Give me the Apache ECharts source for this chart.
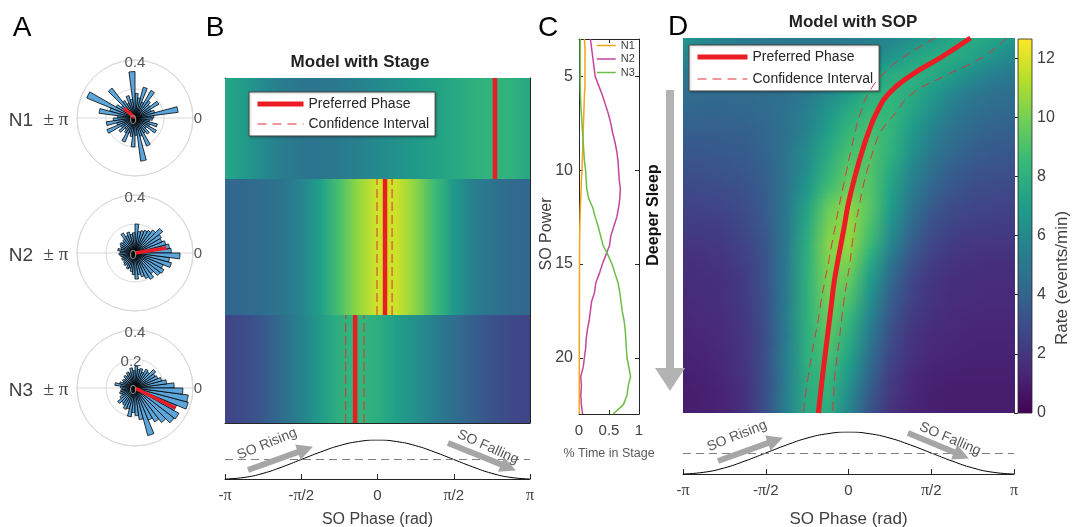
<!DOCTYPE html>
<html><head><meta charset="utf-8"><title>SO phase model</title>
<script src="https://cdn.jsdelivr.net/npm/echarts@6.0.0/dist/echarts.min.js"></script>
<style>html,body{margin:0;padding:0;background:#fff;}#chart{width:1074px;height:527px;}</style>
</head><body><div id="chart"></div>
<script>
const PI = Math.PI;
const FONT = 'Liberation Sans, Arial, Helvetica, sans-serif';
const SERIF = 'Liberation Serif, Times New Roman, serif';

// ===== Panel A: polar histograms (48 bins of 7.5 deg, fraction) =====
const stageNames = ['N1', 'N2', 'N3'];
const binCenters = Array.from({length: 48}, (_, k) => 3.75 + 7.5 * k);
const histN1 = [0.13,0.30,0.14,0.12,0.19,0.13,0.15,0.22,0.12,0.22,0.14,0.17,0.32,0.13,0.16,0.11,0.14,0.26,0.12,0.15,0.36,0.18,0.25,0.12,0.15,0.20,0.13,0.21,0.11,0.14,0.10,0.12,0.18,0.11,0.13,0.20,0.12,0.30,0.13,0.21,0.12,0.14,0.10,0.17,0.11,0.16,0.10,0.12];
const histN2 = [0.25,0.24,0.22,0.20,0.21,0.24,0.20,0.18,0.17,0.16,0.15,0.20,0.14,0.13,0.15,0.13,0.16,0.12,0.11,0.12,0.11,0.10,0.12,0.10,0.11,0.10,0.09,0.10,0.09,0.10,0.11,0.10,0.12,0.11,0.13,0.15,0.18,0.15,0.17,0.19,0.21,0.18,0.22,0.23,0.21,0.26,0.24,0.31];
const histN3 = [0.27,0.22,0.19,0.17,0.16,0.18,0.14,0.15,0.12,0.14,0.13,0.15,0.12,0.14,0.11,0.12,0.10,0.11,0.09,0.10,0.09,0.11,0.14,0.10,0.09,0.10,0.11,0.10,0.12,0.15,0.13,0.14,0.16,0.15,0.20,0.17,0.19,0.22,0.34,0.24,0.27,0.30,0.34,0.35,0.31,0.38,0.37,0.33];
const stagePrefLength = [0.10, 0.22, 0.31];

// ===== Panel B: model with stage =====
const heatPhases = [-8,-7,-6,-5,-4,-3,-2,-1,0,1,2,3,4,5,6,7,8].map(k => k * PI / 8);
const stageRateN1 = [7.5,6.9,6.0,5.3,5.0,5.0,5.2,5.5,6.0,6.4,6.8,7.2,7.6,8.0,8.3,8.1,7.5];
const stageRateN2 = [4.2,4.25,4.5,4.9,5.7,7.1,8.9,10.6,11.8,11.7,10.4,8.6,6.8,5.5,4.8,4.4,4.2];
const stageRateN3 = [2.6,2.9,3.5,4.5,5.6,6.9,8.0,8.4,7.9,7.1,6.3,5.4,4.6,3.8,3.2,2.8,2.6];
const stagePrefPhase = [2.42, 0.155, -0.46];
const stageCILow = [null, -0.01, -0.655];
const stageCIHigh = [null, 0.30, -0.277];

// ===== SO waveform =====
const cosValues = [-1,-0.92,-0.71,-0.38,0,0.38,0.71,0.92,1,0.92,0.71,0.38,0,-0.38,-0.71,-0.92,-1];
const phaseTicks = [-PI, -PI/2, 0, PI/2, PI];
const phaseTickLabels = ['-π', '-π/2', '0', 'π/2', 'π'];
const arrowsB = [[[-2.668,-0.538],[-1.485,0.518]], [[1.452,0.846],[2.699,-0.405]]];
const arrowsD = [[[-2.477,-0.381],[-1.388,0.600]], [[1.129,0.952],[2.145,-0.110]]];

// ===== Panel C: % time in stage vs SO power =====
const cPower = Array.from({length: 41}, (_, i) => 3 + 0.5 * i);
const timeN1 = [0.09,0.10,0.10,0.10,0.10,0.10,0.09,0.085,0.08,0.075,0.07,0.065,0.06,0.055,0.05,0.04,0.035,0.03,0.022,0.018,0.014,0.011,0.01,0.009,0.008,0.008,0.007,0.007,0.006,0.006,0.006,0.005,0.005,0.005,0.005,0.005,0.005,0.005,0.005,0.005,0.005];
const timeN2 = [0.19,0.21,0.23,0.25,0.27,0.33,0.39,0.44,0.49,0.53,0.56,0.60,0.63,0.65,0.66,0.67,0.69,0.68,0.66,0.63,0.58,0.53,0.51,0.45,0.39,0.34,0.28,0.26,0.21,0.19,0.17,0.14,0.12,0.11,0.09,0.07,0.03,0.04,0.03,0.04,0.06];
const timeN3 = [0.02,0.02,0.02,0.02,0.02,0.02,0.025,0.03,0.04,0.05,0.06,0.07,0.08,0.09,0.11,0.12,0.13,0.16,0.23,0.27,0.32,0.36,0.40,0.48,0.55,0.60,0.65,0.68,0.70,0.72,0.75,0.77,0.78,0.79,0.80,0.83,0.86,0.82,0.80,0.74,0.57];
const powerTicks = [5, 10, 15, 20];
const timeTicks = [0, 0.5, 1];

// ===== Panel D: model with SO power =====
const sopPower = [3,4,5,6,7,8,9,10,11,12,13,14,15,16,17,18,19,20,21,22,23];
const sopPrefPhase = [2.30,1.76,1.17,0.74,0.52,0.372,0.254,0.15,0.057,-0.025,-0.086,-0.152,-0.219,-0.28,-0.324,-0.368,-0.412,-0.456,-0.50,-0.54,-0.58];
const sopCILow = [1.64,1.04,0.62,0.36,0.215,0.117,0.036,-0.04,-0.115,-0.19,-0.257,-0.325,-0.39,-0.46,-0.527,-0.58,-0.648,-0.71,-0.77,-0.82,-0.865];
const sopCIHigh = [2.98,2.54,1.83,1.18,0.88,0.60,0.46,0.35,0.26,0.19,0.12,0.06,0.018,-0.04,-0.095,-0.14,-0.18,-0.226,-0.27,-0.29,-0.31];
const sopRate = [
 [6.7,6.1,5.6,5.3,5.2,5.1,5.1,5.1,5.2,5.4,5.7,6.2,6.9,7.5,7.7,7.4,6.7],
 [5.8,5.4,5.1,5.0,4.9,4.9,5.0,5.1,5.4,5.8,6.5,7.3,7.8,7.8,7.3,6.5,5.8],
 [5.0,4.8,4.7,4.7,4.7,4.8,5.0,5.4,6.1,6.9,7.8,8.1,7.7,6.9,6.0,5.4,5.0],
 [4.5,4.4,4.4,4.4,4.5,4.7,5.2,6.0,7.0,8.0,8.3,7.8,6.8,5.8,5.1,4.7,4.5],
 [4.2,4.1,4.1,4.2,4.4,4.8,5.5,6.6,7.8,8.5,8.4,7.4,6.2,5.2,4.6,4.3,4.2],
 [3.8,3.8,3.8,3.9,4.2,4.7,5.7,7.1,8.4,8.9,8.3,6.9,5.6,4.7,4.2,3.9,3.8],
 [3.5,3.5,3.6,3.7,4.1,4.9,6.1,7.6,8.9,9.1,8.1,6.5,5.1,4.3,3.8,3.6,3.5],
 [3.2,3.2,3.3,3.5,3.9,4.9,6.3,8.1,9.4,9.2,7.7,5.9,4.6,3.8,3.4,3.2,3.2],
 [2.8,2.9,3.0,3.2,3.8,4.9,6.7,8.7,9.8,9.2,7.3,5.4,4.1,3.4,3.0,2.9,2.8],
 [2.5,2.6,2.7,3.0,3.7,5.1,7.3,9.6,10.5,9.3,7.0,4.9,3.6,2.9,2.7,2.6,2.5],
 [2.3,2.3,2.4,2.8,3.6,5.2,7.6,10.0,10.7,9.0,6.4,4.3,3.1,2.6,2.4,2.3,2.3],
 [2.0,2.0,2.2,2.6,3.4,5.2,7.9,10.3,10.6,8.6,5.8,3.8,2.7,2.2,2.0,2.0,2.0],
 [1.7,1.8,2.0,2.4,3.3,5.3,8.0,10.2,10.1,7.7,5.0,3.2,2.3,1.9,1.8,1.7,1.7],
 [1.6,1.7,1.8,2.2,3.3,5.3,8.1,10.1,9.5,6.9,4.3,2.7,2.0,1.7,1.6,1.6,1.6],
 [1.5,1.6,1.8,2.2,3.2,5.3,8.1,9.9,9.0,6.3,3.8,2.5,1.9,1.6,1.6,1.5,1.5],
 [1.4,1.5,1.6,2.1,3.2,5.4,8.1,9.6,8.4,5.7,3.4,2.2,1.7,1.5,1.4,1.4,1.4],
 [1.3,1.4,1.6,2.0,3.1,5.3,8.0,9.3,7.8,5.1,3.0,1.9,1.5,1.4,1.3,1.3,1.3],
 [1.2,1.3,1.5,2.0,3.2,5.5,8.0,8.9,7.3,4.6,2.7,1.8,1.4,1.3,1.2,1.2,1.2],
 [1.1,1.2,1.4,1.9,3.1,5.4,7.9,8.5,6.7,4.1,2.3,1.5,1.2,1.1,1.1,1.1,1.1],
 [1.0,1.1,1.3,1.8,3.1,5.5,7.8,8.2,6.1,3.6,2.1,1.4,1.1,1.0,1.0,1.0,1.0],
 [1.0,1.1,1.3,1.8,3.2,5.5,7.8,7.8,5.7,3.3,1.9,1.3,1.1,1.0,1.0,1.0,1.0]
];
const rateTicks = [0, 2, 4, 6, 8, 10, 12];
const rateMax = 12.65;

// ===== styling helpers =====
const VIR = ['#440154','#482878','#3e4989','#31688e','#26828e','#1f9e89','#35b779','#6ece58','#b5de2b','#fde725'];
function hexRgb(h){ return [parseInt(h.substr(1,2),16), parseInt(h.substr(3,2),16), parseInt(h.substr(5,2),16)]; }
const VIRRGB = VIR.map(hexRgb);
function viridis(t){
  t = Math.max(0, Math.min(1, t));
  const x = t * 9, i = Math.min(8, Math.floor(x)), f = x - i;
  const a = VIRRGB[i], b = VIRRGB[i+1];
  return 'rgb(' + a.map((v, k) => Math.round(v + (b[k] - v) * f)).join(',') + ')';
}
const RED = '#ec1c24';
const FRAME = '#262626';
const TXT = '#404040';

const chart = echarts.init(document.getElementById('chart'), null, {renderer: 'canvas'});

const G = (left, top, width, height) => ({left, top, width, height, outerBoundsMode: 'none', containLabel: false});
const grid = [
  G(225, 78, 305, 101),   // 0 B N1
  G(225, 179, 305, 136),  // 1 B N2
  G(225, 315, 305, 108),  // 2 B N3
  G(225, 440, 305, 39),   // 3 B waveform
  G(579, 39, 60, 375),    // 4 C
  G(683, 38, 332, 375),   // 5 D heat
  G(683, 432, 331, 42),   // 6 D waveform
  G(1018, 39, 14, 374)    // 7 colorbar
];

const noSplit = {show: false};
const LINE = (c) => ({show: true, onZero: false, lineStyle: {color: c || FRAME, width: 1}});
function phaseLabel(v){
  let k = 0, best = 1e9;
  phaseTicks.forEach((t, i) => { const d = Math.abs(t - v); if (d < best) { best = d; k = i; } });
  return phaseTickLabels[k].replace('π', '{p|π}');
}
function waveX(gi, nameGap, nameSize){
  return {type: 'value', gridIndex: gi, min: -PI, max: PI, position: 'bottom', splitLine: noSplit,
    axisLine: LINE(),
    axisTick: {show: true, inside: true, length: 5, customValues: phaseTicks, lineStyle: {color: FRAME}},
    axisLabel: {show: true, customValues: phaseTicks, formatter: phaseLabel, fontSize: 15, color: TXT, margin: 9, fontFamily: FONT,
      rich: {p: {fontFamily: SERIF, fontSize: 16, color: TXT}}},
    name: 'SO Phase (rad)', nameLocation: 'middle', nameGap: nameGap,
    nameTextStyle: {fontSize: nameSize, color: TXT, fontFamily: FONT}};
}
const xAxis = [
  {type:'value', gridIndex:0, min:-PI, max:PI, position:'top', splitLine:noSplit, axisLine:LINE(), axisTick:{show:false}, axisLabel:{show:false}},
  {type:'value', gridIndex:1, min:-PI, max:PI, show:false, splitLine:noSplit},
  {type:'value', gridIndex:2, min:-PI, max:PI, position:'bottom', splitLine:noSplit, axisLine:LINE(), axisTick:{show:false}, axisLabel:{show:false}},
  waveX(3, 33, 16),
  {type:'value', gridIndex:4, min:0, max:1, position:'bottom', splitLine:noSplit, axisLine:LINE(),
    axisTick:{show:true, inside:true, length:4, customValues:timeTicks, lineStyle:{color:FRAME}},
    axisLabel:{show:true, customValues:timeTicks, fontSize:15, color:TXT, margin:9, fontFamily:FONT},
    name:'% Time in Stage', nameLocation:'middle', nameGap:33, nameTextStyle:{fontSize:12.5, color:'#595959', fontFamily:FONT}},
  {type:'value', gridIndex:4, min:0, max:1, position:'top', splitLine:noSplit, axisLine:LINE(),
    axisTick:{show:true, inside:true, length:4, customValues:timeTicks, lineStyle:{color:FRAME}}, axisLabel:{show:false}},
  {type:'value', gridIndex:5, min:-PI, max:PI, show:false, splitLine:noSplit},
  waveX(6, 37, 17),
  {type:'value', gridIndex:7, min:0, max:1, show:false, splitLine:noSplit}
];
function rowCat(gi, pos){
  return {type:'category', gridIndex:gi, data:[stageNames[gi]], position:pos,
    axisLine:LINE(),
    axisTick:{show:true, inside:true, alignWithLabel:true, length:5, lineStyle:{color:FRAME}},
    axisLabel:{show:false}, splitLine:noSplit};
}
const yAxis = [
  {type:'value', gridIndex:0, min:0, max:1, show:false, splitLine:noSplit},   //0
  {type:'value', gridIndex:1, min:0, max:1, show:false, splitLine:noSplit},   //1
  {type:'value', gridIndex:2, min:0, max:1, show:false, splitLine:noSplit},   //2
  rowCat(0,'left'), rowCat(1,'left'), rowCat(2,'left'),                       //3,4,5
  rowCat(0,'right'), rowCat(1,'right'), rowCat(2,'right'),                    //6,7,8
  {type:'value', gridIndex:3, min:-1, max:1, show:false, splitLine:noSplit},  //9
  {type:'value', gridIndex:4, min:3, max:23, inverse:true, position:'left', splitLine:noSplit, axisLine:LINE(),   //10
    axisTick:{show:true, inside:true, length:4, customValues:powerTicks, lineStyle:{color:FRAME}},
    axisLabel:{show:true, customValues:powerTicks, fontSize:16, color:TXT, margin:6, fontFamily:FONT}},
  {type:'value', gridIndex:4, min:3, max:23, inverse:true, position:'right', splitLine:noSplit, axisLine:LINE(),  //11
    axisTick:{show:true, inside:true, length:4, customValues:powerTicks, lineStyle:{color:FRAME}},
    axisLabel:{show:false}},
  {type:'value', gridIndex:5, min:3, max:23, inverse:true, show:false, splitLine:noSplit},  //12
  {type:'value', gridIndex:6, min:-1, max:1, show:false, splitLine:noSplit},  //13
  {type:'value', gridIndex:7, min:0, max:rateMax, position:'right', splitLine:noSplit,     //14
    axisLine:{show:false},
    axisTick:{show:true, inside:true, length:4, customValues:rateTicks, lineStyle:{color:FRAME}},
    axisLabel:{show:true, customValues:rateTicks, fontSize:16, color:TXT, margin:5, fontFamily:FONT}}
];

// ---- polar (panel A) ----
const polarCY = [118, 253, 388];
const polar = polarCY.map(cy => ({center:[135, cy], radius:58}));
const angleAxis = [0,1,2].map(i => ({polarIndex:i, type:'value', min:0, max:360, interval:180, startAngle:0, clockwise:false,
  axisLine:{show:true, lineStyle:{color:'#d9d9d9'}}, axisTick:{show:false}, axisLabel:{show:false},
  splitLine:{show:true, lineStyle:{color:'#d9d9d9'}}}));
const radiusAxis = [0,1,2].map(i => ({polarIndex:i, type:'value', min:0, max:0.4, interval:0.2,
  axisLine:{show:false}, axisTick:{show:false}, axisLabel:{show:false},
  splitLine:{show:true, lineStyle:{color:'#d9d9d9'}}}));

const series = [];
const hists = [histN1, histN2, histN3];
const BIN = 7.5;
hists.forEach((h, i) => {
  series.push({type:'custom', coordinateSystem:'polar', polarIndex:i, silent:true, z:2,
    data: h.map((v, k) => [v, binCenters[k]]),
    renderItem(params, api){
      const v = api.value(0), a = api.value(1);
      const pts = [api.coord([0, a])];
      for (let s = 0; s <= 6; s++) pts.push(api.coord([v, a - BIN/2 + s * BIN/6]));
      return {type:'polygon', shape:{points:pts}, style:{fill:'#5da6dc', stroke:'#000', lineWidth:0.8}};
    }});
  const deg = ((stagePrefPhase[i] * 180 / PI) + 360) % 360;
  series.push({type:'line', name:'polar-pref-' + stageNames[i], coordinateSystem:'polar', polarIndex:i, silent:true, z:5,
    data:[[0, deg], [stagePrefLength[i], deg]], symbol:'none', lineStyle:{color:RED, width:3.5}});
});

// ---- panel B strips ----
const stageRows = [stageRateN1, stageRateN2, stageRateN3];
[0,1,2].forEach(i => {
  series.push({type:'custom', xAxisIndex:i, yAxisIndex:i, silent:true, z:1, data:[[0, 0.5]],
    renderItem(params, api){
      const cs = params.coordSys;
      const x0 = api.coord([-PI, 0.5])[0], x1 = api.coord([PI, 0.5])[0];
      const stops = heatPhases.map((ph, j) => ({offset:(api.coord([ph, 0.5])[0] - x0) / (x1 - x0), color:viridis(stageRows[i][j] / rateMax)}));
      return {type:'rect', shape:{x:x0, y:cs.y, width:x1 - x0, height:cs.height},
        style:{fill:new echarts.graphic.LinearGradient(0, 0, 1, 0, stops)}};
    }});
});
[0,1,2].forEach(i => {
  series.push({type:'line', name:'Preferred Phase', xAxisIndex:i, yAxisIndex:i, silent:true, z:5, symbol:'none',
    data:[[stagePrefPhase[i], 0], [stagePrefPhase[i], 1]], lineStyle:{color:RED, width:4.5}});
  if (stageCILow[i] !== null) {
    [stageCILow[i], stageCIHigh[i]].forEach(v => {
      series.push({type:'line', name:'Confidence Interval', xAxisIndex:i, yAxisIndex:i, silent:true, z:4, symbol:'none',
        data:[[v, 0], [v, 1]], lineStyle:{color:'#e0323a', width:1, type:[9, 4]}});
    });
  }
});

// ---- waveform panels ----
function waveSeries(xi, yi, arrows){
  series.push({type:'line', xAxisIndex:xi, yAxisIndex:yi, silent:true, symbol:'none', smooth:true, z:3,
    data: heatPhases.map((p, j) => [p, cosValues[j]]), lineStyle:{color:'#000', width:1},
    markLine:{silent:true, symbol:'none', label:{show:false}, animation:false,
      lineStyle:{color:'#7f7f7f', type:[8, 5], width:1}, data:[{yAxis:0}]}});
  series.push({type:'line', xAxisIndex:xi, yAxisIndex:yi, silent:true, symbol:'none', data:[], clip:false, z:4,
    markLine:{silent:true, symbol:['none', 'triangle'], symbolSize:16, label:{show:false}, animation:false,
      lineStyle:{color:'#a6a6a6', width:6, type:'solid'},
      data: arrows.map(a => [{coord:a[0]}, {coord:a[1]}])}});
}
waveSeries(3, 9, arrowsB);
waveSeries(7, 13, arrowsD);

// ---- panel C ----
const cColors = ['#f5a31a', '#c5449e', '#6cbd45'];
[['N1', timeN1], ['N2', timeN2], ['N3', timeN3]].forEach(([n, arr], k) => {
  series.push({type:'line', name:n, xAxisIndex:4, yAxisIndex:10, symbol:'none', silent:true, z:3,
    data: cPower.map((p, i) => [arr[i], p]), lineStyle:{color:cColors[k], width:1.5}, itemStyle:{color:cColors[k]}});
});

// ---- panel D heat: rows as horizontal colour gradients, shaded smoothly from row to row ----
const SUB = 12;
series.push({type:'custom', xAxisIndex:6, yAxisIndex:12, silent:true, z:1,
  data: [[0, sopPower[0]]],
  renderItem(params, api){
    const x0 = api.coord([-PI, sopPower[0]])[0], x1 = api.coord([PI, sopPower[0]])[0];
    const offs = heatPhases.map(ph => (api.coord([ph, sopPower[0]])[0] - x0) / (x1 - x0));
    const children = [];
    for (let i = 0; i < sopPower.length - 1; i++) {
      const pA = sopPower[i], pB = sopPower[i + 1];
      for (let s = 0; s < SUB; s++) {
        const f = (s + 0.5) / SUB;
        const ya = api.coord([0, pA + (pB - pA) * s / SUB])[1];
        const yb = api.coord([0, pA + (pB - pA) * (s + 1) / SUB])[1];
        const stops = heatPhases.map((ph, j) => ({offset:offs[j],
          color:viridis((sopRate[i][j] * (1 - f) + sopRate[i + 1][j] * f) / rateMax)}));
        const last = (i === sopPower.length - 2 && s === SUB - 1);
        children.push({type:'rect', shape:{x:x0, y:Math.min(ya, yb), width:x1 - x0, height:Math.abs(yb - ya) + (last ? 0 : 1)},
          style:{fill:new echarts.graphic.LinearGradient(0, 0, 1, 0, stops)}});
      }
    }
    return {type:'group', children};
  }});
series.push({type:'line', name:'Preferred Phase', xAxisIndex:6, yAxisIndex:12, silent:true, z:5, symbol:'none', smooth:true,
  data: sopPower.map((p, i) => [sopPrefPhase[i], p]), lineStyle:{color:RED, width:5}});
[sopCILow, sopCIHigh].forEach(arr => {
  series.push({type:'line', name:'Confidence Interval', xAxisIndex:6, yAxisIndex:12, silent:true, z:4, symbol:'none', smooth:true,
    data: sopPower.map((p, i) => [arr[i], p]), lineStyle:{color:'#e0323a', width:1, type:[9, 6]}});
});

// ---- colorbar ----
series.push({type:'custom', xAxisIndex:8, yAxisIndex:14, silent:true, z:1, data:[[0.5, rateMax / 2]],
  renderItem(params, api){
    const a = api.coord([0, 0]), b = api.coord([1, rateMax]);
    const stops = VIR.map((c, k) => ({offset:1 - k / 9, color:c})).reverse();
    return {type:'rect', shape:{x:a[0], y:b[1], width:b[0] - a[0], height:a[1] - b[1]},
      style:{fill:new echarts.graphic.LinearGradient(0, 0, 0, 1, stops), stroke:FRAME, lineWidth:0.8}};
  }});

// ---- legends ----
const hideSym = {color:'rgba(0,0,0,0)', borderWidth:0, opacity:0};
const legendCommon = {orient:'vertical', padding:[5, 6], itemHeight:14, backgroundColor:'#fff',
  borderColor:'#444', borderWidth:1, shadowColor:'rgba(0,0,0,0.25)', shadowBlur:2, shadowOffsetX:1, shadowOffsetY:1,
  textStyle:{fontSize:14, color:'#262626', fontFamily:FONT}, selectedMode:false, itemStyle:hideSym,
  data:[{name:'Preferred Phase', lineStyle:{width:5, color:RED}, itemStyle:hideSym},
        {name:'Confidence Interval', lineStyle:{width:1, color:'#e0323a', type:[9, 6]}, itemStyle:hideSym}]};
const legend = [
  Object.assign({}, legendCommon, {left:249, top:92, itemWidth:46, itemGap:6}),
  Object.assign({}, legendCommon, {left:689, top:45, itemWidth:50, itemGap:8}),
  {orient:'vertical', left:596, top:40, padding:0, itemWidth:19, itemHeight:12, itemGap:2.5, selectedMode:false,
   textStyle:{fontSize:11, color:TXT, fontFamily:FONT}, itemStyle:hideSym,
   data:stageNames.map((n, k) => ({name:n, lineStyle:{width:1.5, color:cColors[k]}, itemStyle:hideSym}))}
];

// ---- texts ----
function T(text, x, y, o){
  o = o || {};
  return {type:'text', x:x, y:y, rotation:o.rot || 0, z:100, silent:true,
    style:{text:text, fill:o.color || TXT, fontSize:o.size || 15, fontWeight:o.weight || 'normal',
      fontFamily:o.family || FONT, align:'center', verticalAlign:'middle'}};
}
const graphic = [
  T('A', 22, 28, {size:28, color:'#000'}),
  T('B', 215, 28, {size:28, color:'#000'}),
  T('C', 548, 28, {size:28, color:'#000'}),
  T('D', 678, 27, {size:28, color:'#000'}),
  T('Model with Stage', 360, 62, {size:17, weight:'bold', color:'#222'}),
  T('Model with SOP', 853, 22, {size:17, weight:'bold', color:'#222'}),
  T('SO Rising', 267, 444, {size:14, rot:0.39, color:'#595959'}),
  T('SO Falling', 488, 447, {size:14, rot:-0.42, color:'#595959'}),
  T('SO Rising', 737, 436, {size:14, rot:0.38, color:'#595959'}),
  T('SO Falling', 950, 439, {size:14, rot:-0.40, color:'#595959'}),
  T('SO Power', 547, 234, {size:16, rot:PI / 2}),
  T('Deeper Sleep', 654, 215, {size:16, weight:'bold', rot:PI / 2, color:'#111'}),
  T('Rate (events/min)', 1062, 278, {size:17, rot:PI / 2}),
  {type:'rect', shape:{x:666, y:90, width:8, height:279}, style:{fill:'#b3b3b3'}, silent:true, z:50},
  {type:'polygon', shape:{points:[[655, 368], [685, 368], [670, 391]]}, style:{fill:'#b3b3b3'}, silent:true, z:50}
];
polarCY.forEach((cy, i) => {
  graphic.push(T(stageNames[i], 21, cy + 3, {size:19}));
  graphic.push(T('± π', 56, cy + 2, {size:19, family:SERIF}));
  graphic.push(T('0.4', 135, cy - 55, {size:15, color:'#555'}));
  graphic.push(T('0', 198, cy + 1, {size:15, color:'#555'}));
  graphic.push(T('0', 133, cy + 2, {size:13, color:'#8a8a8a'}));
});
graphic.push(T('0.2', 131, 362, {size:15, color:'#555'}));

chart.setOption({
  animation:false,
  backgroundColor:'#fff',
  textStyle:{fontFamily:FONT},
  grid, xAxis, yAxis, polar, angleAxis, radiusAxis, legend, series, graphic
});
</script></body></html>
